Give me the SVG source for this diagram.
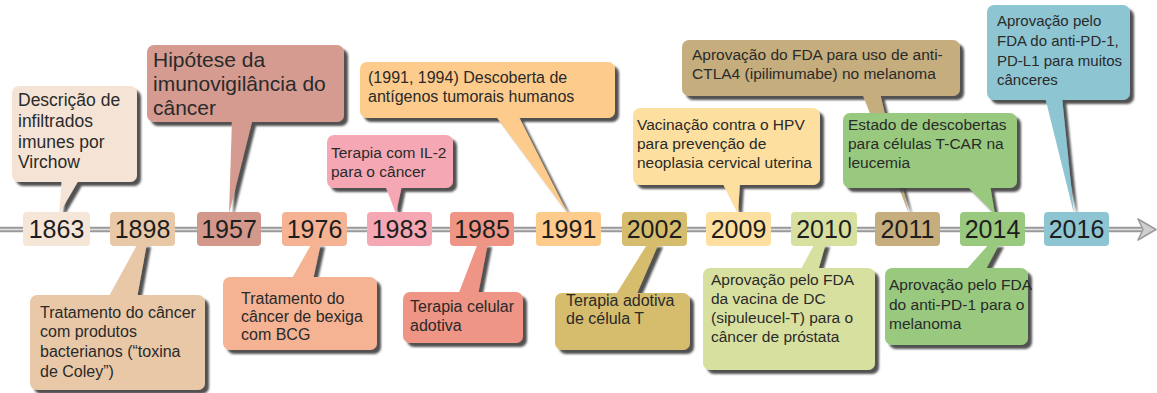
<svg xmlns="http://www.w3.org/2000/svg" width="1157" height="393" viewBox="0 0 1157 393">
<style>
text{font-family:"Liberation Sans",Arial,Helvetica,sans-serif;fill:#2a2a2a}
.yr{font-size:25px;text-anchor:middle;fill:#1e1e1e}
.s{font-size:15.5px}
.s16{font-size:16px}
.m{font-size:17.5px}
.b{font-size:21px}
</style>
<defs>
<filter id="sh" x="-10%" y="-10%" width="130%" height="130%">
<feDropShadow dx="4" dy="4" stdDeviation="1" flood-color="#3c3c3c" flood-opacity="0.9"/>
</filter>
</defs>
<rect width="1157" height="393" fill="#ffffff"/>

<g id="connectors">
<line x1="0" y1="229.5" x2="1146" y2="229.5" stroke="#9a9a9a" stroke-width="5.5"/>
<line x1="0" y1="229.5" x2="1146" y2="229.5" stroke="#e2e2e2" stroke-width="1.6"/>
<polygon points="1138,219 1156,229.5 1138,240 1143,229.5" fill="#cfcfcf" stroke="#9a9a9a" stroke-width="1.5" stroke-linejoin="round"/>
</g>

<!-- top callouts -->
<g id="c1863">
<g filter="url(#sh)" fill="#f5e4d5"><rect x="12" y="86" width="125" height="96" rx="7"/><polygon points="62,178 80,178 59,214"/></g>
<text class="m"><tspan x="18" y="106">Descrição de</tspan><tspan x="18" y="127">infiltrados</tspan><tspan x="18" y="148">imunes por</tspan><tspan x="18" y="168">Virchow</tspan></text>
</g>
<g id="c1957">
<g filter="url(#sh)" fill="#d59b90"><rect x="147" y="45" width="197" height="77" rx="7"/><polygon points="232,118 253,118 229,214"/></g>
<text class="b"><tspan x="153" y="67">Hipótese da</tspan><tspan x="153" y="91">imunovigilância do</tspan><tspan x="153" y="115">câncer</tspan></text>
</g>
<g id="c1983">
<g filter="url(#sh)" fill="#f5a8b4"><rect x="327" y="135" width="126" height="53" rx="7"/><polygon points="385,185 402,185 396,214"/></g>
<text class="s"><tspan x="331" y="158">Terapia com IL-2</tspan><tspan x="331" y="177">para o câncer</tspan></text>
</g>
<g id="c1991">
<g filter="url(#sh)" fill="#fdcb8b"><rect x="360" y="62" width="255" height="56" rx="7"/><polygon points="495,115 518,115 568,214"/></g>
<text class="s16"><tspan x="368" y="83">(1991, 1994) Descoberta de</tspan><tspan x="368" y="102">antígenos tumorais humanos</tspan></text>
</g>
<g id="c2009">
<g filter="url(#sh)" fill="#fde0a0"><rect x="633" y="108" width="187" height="77" rx="7"/><polygon points="722,182 740,182 738,214"/></g>
<text class="s"><tspan x="637" y="130">Vacinação contra o HPV</tspan><tspan x="637" y="149">para prevenção de</tspan><tspan x="637" y="168">neoplasia cervical uterina</tspan></text>
</g>
<g id="c2011">
<g filter="url(#sh)" fill="#c5ad7d"><rect x="682" y="40" width="278" height="56" rx="7"/><polygon points="862,93 880,93 909,214"/></g>
<text class="s"><tspan x="692" y="60">Aprovação do FDA para uso de anti-</tspan><tspan x="692" y="79">CTLA4 (ipilimumabe) no melanoma</tspan></text>
</g>
<g id="c2014a">
<g filter="url(#sh)" fill="#98c97f"><rect x="843" y="113" width="174" height="75" rx="7"/><polygon points="966,185 990,185 995,214"/></g>
<text class="s"><tspan x="848" y="130">Estado de descobertas</tspan><tspan x="848" y="149">para células T-CAR na</tspan><tspan x="848" y="168">leucemia</tspan></text>
</g>
<g id="c2016">
<g filter="url(#sh)" fill="#8dc5d2"><rect x="987" y="5" width="143" height="95" rx="7"/><polygon points="1045,97 1062,97 1074,214"/></g>
<text class="s" style="font-size:15px"><tspan x="997" y="26">Aprovação pelo</tspan><tspan x="997" y="46">FDA do anti-PD-1,</tspan><tspan x="997" y="66">PD-L1 para muitos</tspan><tspan x="997" y="85">cânceres</tspan></text>
</g>

<!-- bottom callouts -->
<g id="c1898">
<g filter="url(#sh)" fill="#e9c8a8"><rect x="30" y="295" width="175" height="95" rx="7"/><polygon points="108,298 137,298 147,243 138,243"/></g>
<text class="s16"><tspan x="40" y="318">Tratamento do câncer</tspan><tspan x="40" y="337">com produtos</tspan><tspan x="40" y="357">bacterianos (“toxina</tspan><tspan x="40" y="377">de Coley”)</tspan></text>
</g>
<g id="c1976">
<g filter="url(#sh)" fill="#f5b394"><rect x="223" y="277" width="154" height="73" rx="7"/><polygon points="291,280 313,280 321,243 312,243"/></g>
<text class="s16"><tspan x="241" y="304">Tratamento do</tspan><tspan x="241" y="322">câncer de bexiga</tspan><tspan x="241" y="340">com BCG</tspan></text>
</g>
<g id="c1985">
<g filter="url(#sh)" fill="#ee9585"><rect x="403" y="292" width="120" height="51" rx="7"/><polygon points="458,295 478,295 488,243 478,243"/></g>
<text class="s16"><tspan x="410" y="312">Terapia celular</tspan><tspan x="410" y="331">adotiva</tspan></text>
</g>
<g id="c2002">
<g filter="url(#sh)" fill="#d6bd6d"><rect x="555" y="293" width="135" height="57" rx="7"/><polygon points="615,296 636,296 659,243 648,243"/></g>
<text class="s16"><tspan x="566" y="306">Terapia adotiva</tspan><tspan x="566" y="324">de célula T</tspan></text>
</g>
<g id="c2010">
<g filter="url(#sh)" fill="#d8e0a0"><rect x="703" y="268" width="172" height="102" rx="7"/><polygon points="800,271 818,271 826,243 815,243"/></g>
<text class="s"><tspan x="711" y="285">Aprovação pelo FDA</tspan><tspan x="711" y="304">da vacina de DC</tspan><tspan x="711" y="323">(sipuleucel-T) para o</tspan><tspan x="711" y="342">câncer de próstata</tspan></text>
</g>
<g id="c2014b">
<g filter="url(#sh)" fill="#98c97f"><rect x="885" y="268" width="143" height="77" rx="7"/><polygon points="965,271 985,271 1000,243 990,243"/></g>
<text class="s"><tspan x="889" y="290">Aprovação pelo FDA</tspan><tspan x="889" y="310">do anti-PD-1 para o</tspan><tspan x="889" y="329">melanoma</tspan></text>
</g>

<!-- year boxes -->
<g id="y1863"><rect x="23" y="212" width="67" height="34" rx="4" fill="#f5e6d8"/><text class="yr" x="56.5" y="238">1863</text></g>
<g id="y1898"><rect x="110" y="212" width="65" height="34" rx="4" fill="#e9c8a8"/><text class="yr" x="142.5" y="238">1898</text></g>
<g id="y1957"><rect x="197" y="212" width="64" height="34" rx="4" fill="#d4978b"/><text class="yr" x="229" y="238">1957</text></g>
<g id="y1976"><rect x="282" y="212" width="65" height="34" rx="4" fill="#f5b394"/><text class="yr" x="314.5" y="238">1976</text></g>
<g id="y1983"><rect x="367" y="212" width="65" height="34" rx="4" fill="#f5a8b4"/><text class="yr" x="399.5" y="238">1983</text></g>
<g id="y1985"><rect x="450" y="212" width="64" height="34" rx="4" fill="#ee9585"/><text class="yr" x="482" y="238">1985</text></g>
<g id="y1991"><rect x="536" y="212" width="65" height="34" rx="4" fill="#fdcb8b"/><text class="yr" x="568.5" y="238">1991</text></g>
<g id="y2002"><rect x="622" y="212" width="65" height="34" rx="4" fill="#d6bd6d"/><text class="yr" x="654.5" y="238">2002</text></g>
<g id="y2009"><rect x="706" y="212" width="65" height="34" rx="4" fill="#fde0a0"/><text class="yr" x="738.5" y="238">2009</text></g>
<g id="y2010"><rect x="791" y="212" width="66" height="34" rx="4" fill="#d8e0a0"/><text class="yr" x="824" y="238">2010</text></g>
<g id="y2011"><rect x="875" y="212" width="65" height="34" rx="4" fill="#c5ad7d"/><text class="yr" x="907.5" y="238">2011</text></g>
<g id="y2014"><rect x="960" y="212" width="65" height="34" rx="4" fill="#98c97f"/><text class="yr" x="992.5" y="238">2014</text></g>
<g id="y2016"><rect x="1044" y="212" width="65" height="34" rx="4" fill="#8dc5d2"/><text class="yr" x="1076.5" y="238">2016</text></g>
</svg>
